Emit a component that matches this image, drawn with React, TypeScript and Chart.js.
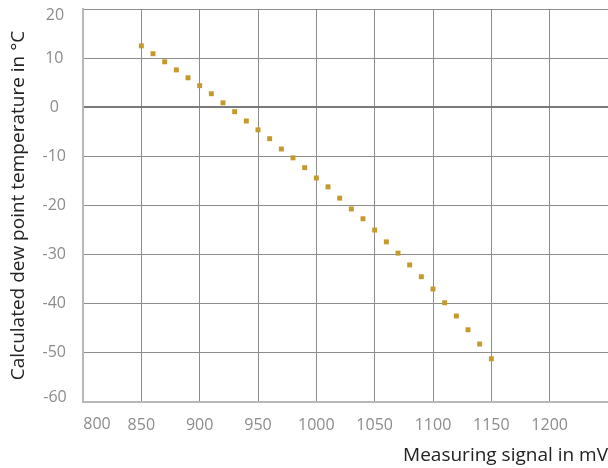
import React, { useEffect, useRef } from "react";
import { Chart, registerables } from "chart.js";

Chart.register(...registerables);

const signalMv = [
  850, 860, 870, 880, 890, 900, 910, 920, 930, 940, 950, 960, 970, 980, 990,
  1000, 1010, 1020, 1030, 1040, 1050, 1060, 1070, 1080, 1090, 1100, 1110,
  1120, 1130, 1140, 1150,
];
const dewPointC = [
  12.5, 10.9, 9.25, 7.6, 6.0, 4.4, 2.75, 0.9, -0.9, -2.8, -4.6, -6.4, -8.5,
  -10.3, -12.3, -14.4, -16.2, -18.5, -20.7, -22.7, -25.0, -27.4, -29.7, -32.1,
  -34.5, -37.0, -39.8, -42.5, -45.3, -48.2, -51.2,
];
const xTitle = "Measuring signal in mV";
const yTitle = "Calculated dew point temperature in °C";
const firstXTick = 800;
const yMin = -60;
const yMax = 20;

const FONT = "'Open Sans', 'Noto Sans', sans-serif";
const TICK_COLOR = "#8c8c8c";

const edgeLabelPlugin = {
  id: "edgeLabels",
  afterDraw(chart: any) {
    const sx = chart.scales.x;
    const sy = chart.scales.y;
    const ctx = chart.ctx;
    ctx.save();
    ctx.font = `16px ${FONT}`;
    ctx.fillStyle = TICK_COLOR;
    ctx.textAlign = "center";
    ctx.textBaseline = "top";
    ctx.fillText(String(firstXTick), sx.getPixelForValue(firstXTick) + 14, sx.top + 14);
    ctx.textBaseline = "middle";
    const cx = sy.right - 17 - 11;
    ctx.fillText(String(yMax), cx, sy.getPixelForValue(yMax) + 6);
    ctx.fillText(String(yMin), cx, sy.getPixelForValue(yMin) - 5);
    ctx.restore();
  },
};

export default function App() {
  const ref = useRef<HTMLCanvasElement | null>(null);
  useEffect(() => {
    if (!ref.current) return;
    const chart = new Chart(ref.current, {
      type: "scatter",
      data: {
        datasets: [
          {
            data: signalMv.map((x, i) => ({ x, y: dewPointC[i] })),
            pointStyle: "rect",
            pointRadius: 3.5,
            pointHoverRadius: 3.5,
            pointBorderWidth: 0,
            backgroundColor: "#c59a2c",
            borderColor: "#c59a2c",
          },
        ],
      },
      plugins: [edgeLabelPlugin],
      options: {
        animation: false,
        responsive: false,
        layout: { padding: { top: 9, left: 0, right: 0, bottom: 0 }, autoPadding: false },
        plugins: { legend: { display: false }, tooltip: { enabled: false } },
        scales: {
          x: {
            type: "linear",
            min: 800,
            max: 1250,
            afterFit: (s: any) => {
              s.height = 66;
              s.paddingLeft = 0;
              s.paddingRight = 0;
            },
            border: { color: "#b8b8b8", width: 2 },
            grid: {
              drawTicks: false,
              lineWidth: 1,
              color: (c: any) =>
                c.tick && c.tick.value === 1250 ? "rgba(0,0,0,0)" : "#8c8c8c",
            },
            ticks: {
              stepSize: 50,
              padding: 14,
              color: TICK_COLOR,
              font: { family: FONT, size: 16 },
              maxRotation: 0,
              autoSkip: false,
              callback: (v: any) => (v === 1250 || v === firstXTick ? "" : String(v)),
            },
            title: {
              display: true,
              text: xTitle,
              align: "end",
              color: "#222",
              font: { family: FONT, size: 19 },
              padding: { top: 0, bottom: 1 },
            },
          },
          y: {
            type: "linear",
            min: yMin,
            max: yMax,
            afterFit: (s: any) => {
              s.width = 83;
              s.paddingTop = 0;
              s.paddingBottom = 0;
            },
            border: { color: "#b8b8b8", width: 2 },
            grid: {
              drawTicks: false,
              lineWidth: (c: any) => (c.tick && c.tick.value === 0 ? 2 : 1),
              color: (c: any) =>
                c.tick && c.tick.value === 0 ? "#7a7a7a" : "#8c8c8c",
            },
            ticks: {
              stepSize: 10,
              padding: 17,
              crossAlign: "center",
              color: TICK_COLOR,
              font: { family: FONT, size: 16 },
              callback: (v: any) => (v === yMin || v === yMax ? "" : String(v)),
            },
            title: {
              display: true,
              text: yTitle,
              color: "#222",
              font: { family: FONT, size: 19 },
              padding: { top: 7, bottom: 0 },
            },
          },
        },
      },
    });
    return () => chart.destroy();
  }, []);
  return (
    <div style={{ position: "absolute", left: 0, top: 0, width: 608, height: 468 }}>
      <canvas ref={ref} width={608} height={468} />
    </div>
  );
}
